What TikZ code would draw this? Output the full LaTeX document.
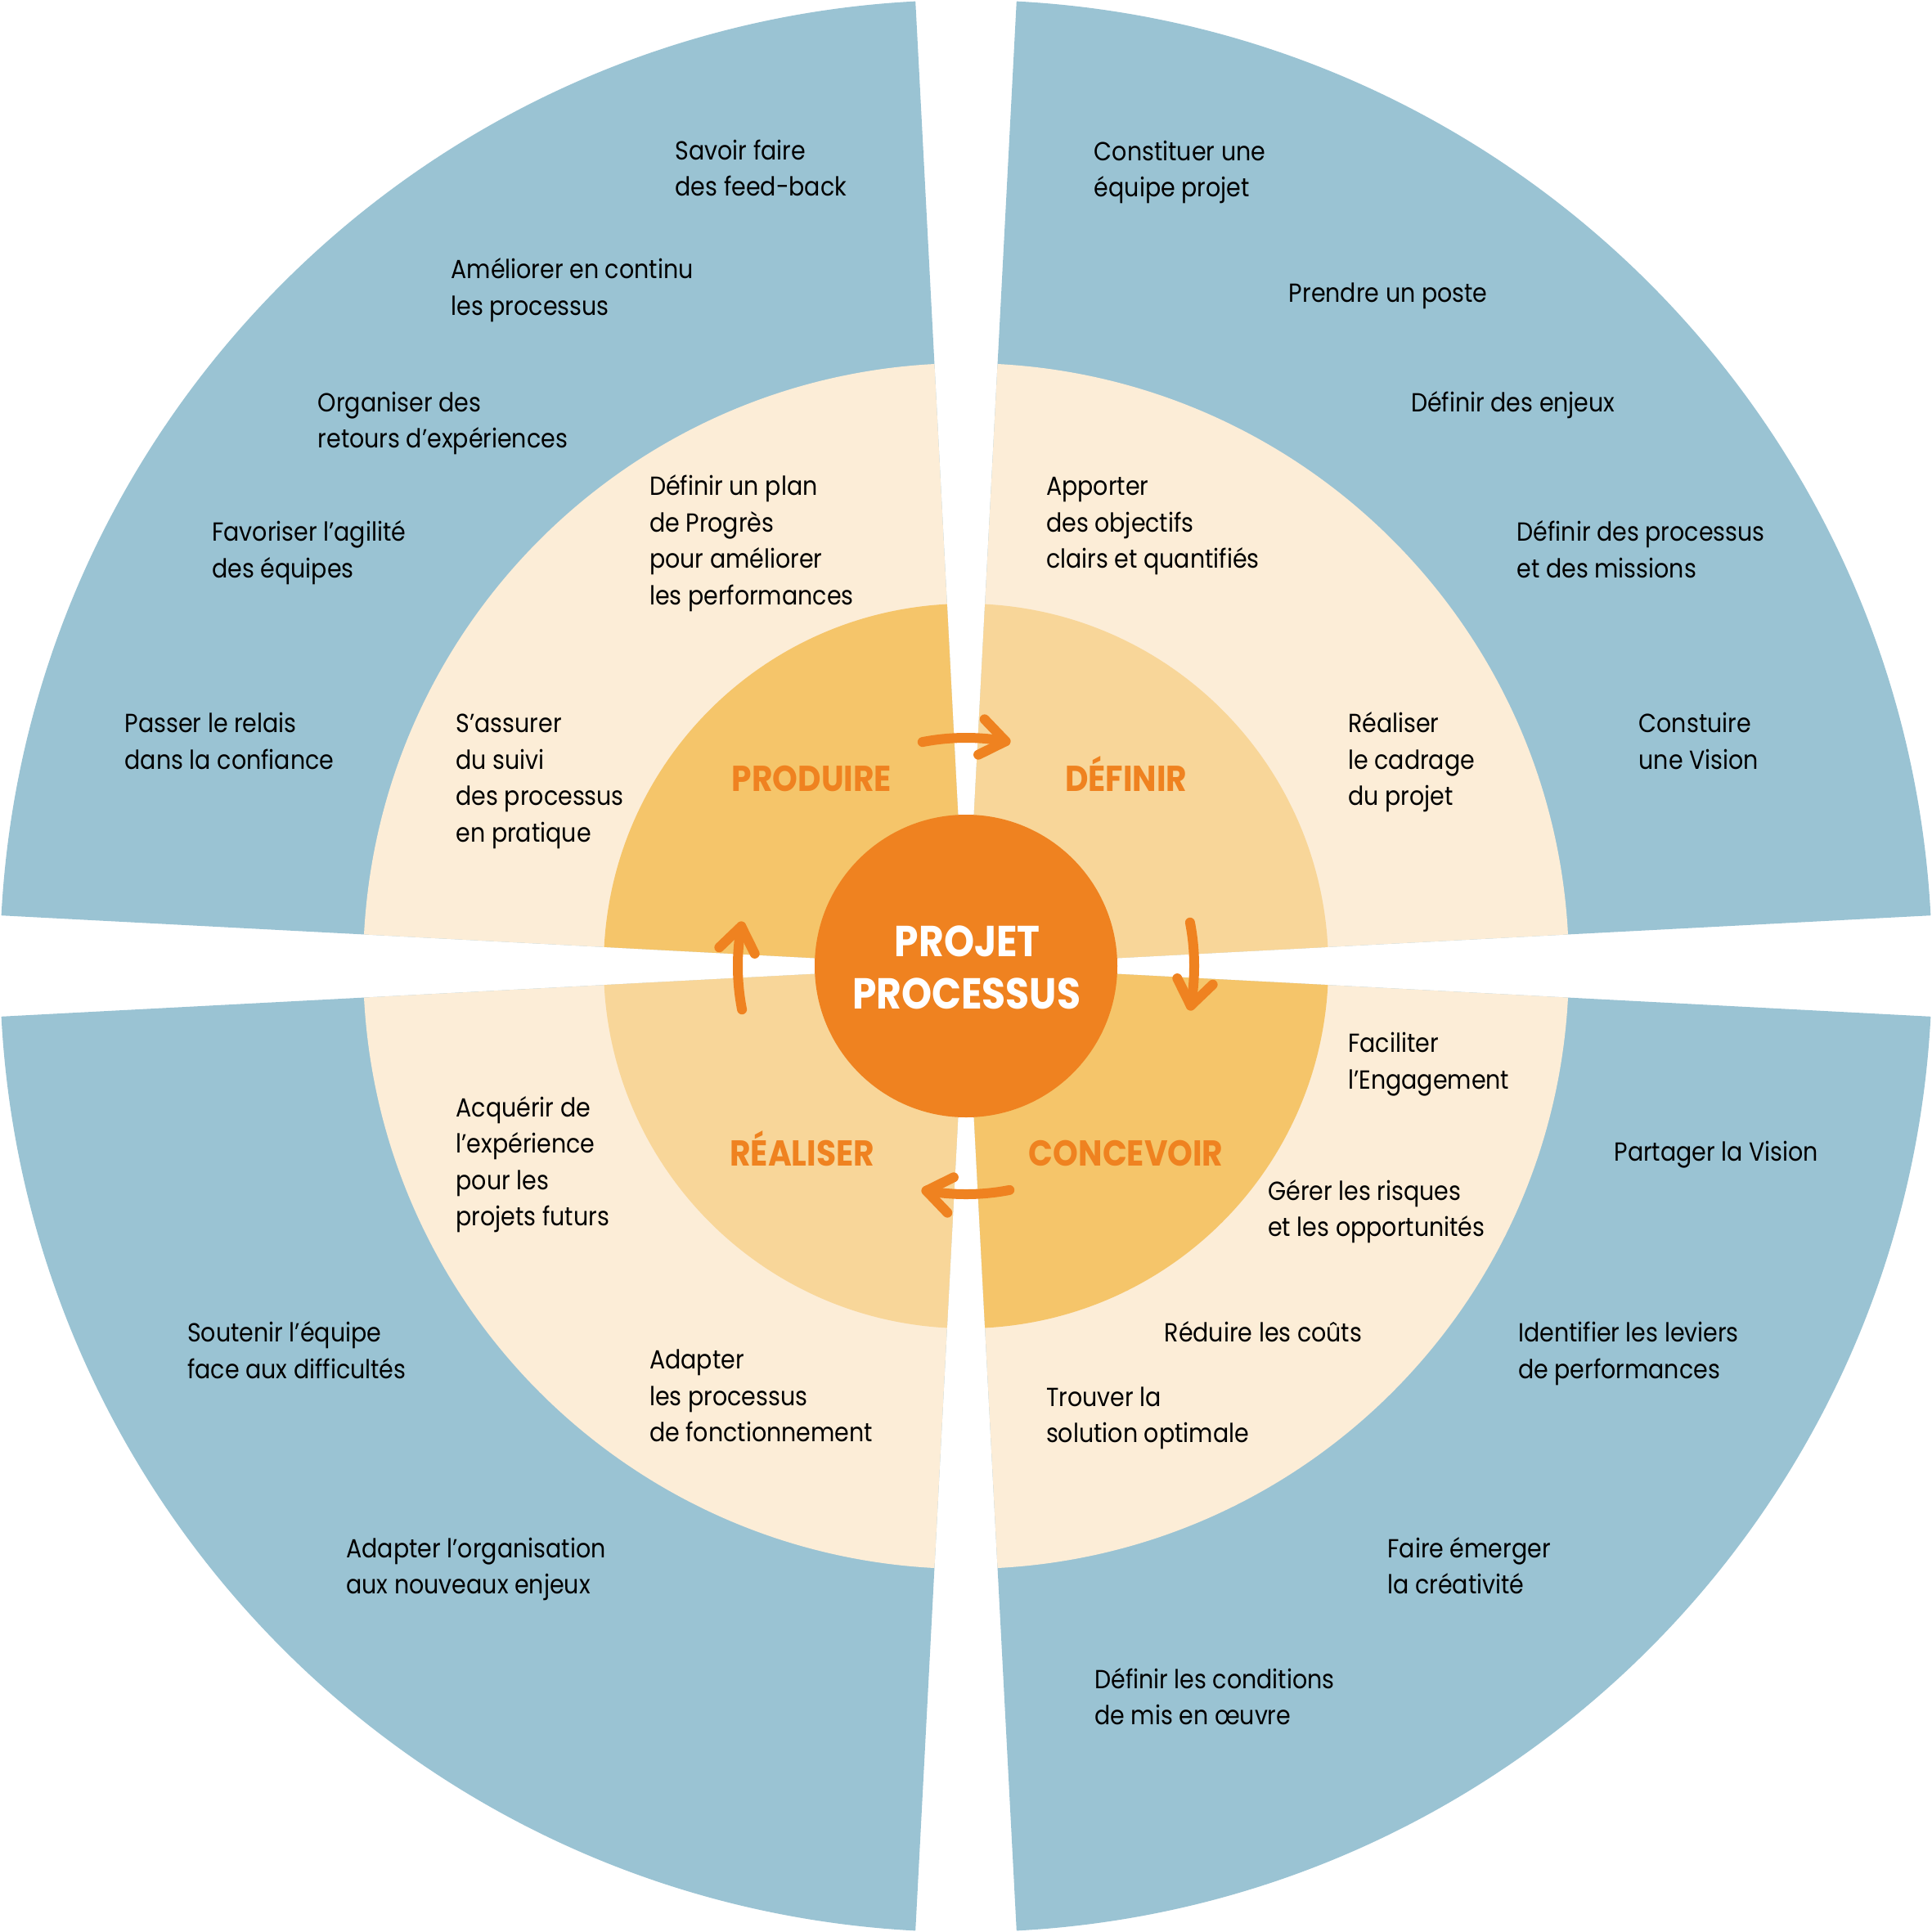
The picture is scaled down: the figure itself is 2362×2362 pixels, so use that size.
\documentclass[tikz,border=0pt]{standalone}
\usepackage{fontspec}
\setmainfont[FakeStretch=0.89]{Poppins}
\definecolor{blueout}{HTML}{9AC3D3}
\definecolor{cream}{HTML}{FCEDD7}
\definecolor{darky}{HTML}{F5C56A}
\definecolor{lighty}{HTML}{F8D699}
\definecolor{orng}{HTML}{EF8220}
\newcommand\TX[4]{\node[txt] (#1) at (#2,#3-40) {\rule{0pt}{40pt}#4};}
\begin{document}
\begin{tikzpicture}[x=1pt,y=-1pt,
  txt/.style={anchor=north west, inner sep=0pt, align=left, text=black,
    font=\fontsize{32}{44.5}\selectfont},
  lbl/.style={anchor=base, inner sep=0pt, text=orng, font=\fontsize{44}{50}\selectfont\bfseries},
  ctr/.style={anchor=base, inner sep=0pt, text=white, font=\fontsize{53}{60}\selectfont\bfseries},
  arrline/.style={draw=orng, line width=12pt, line cap=round, line join=round}]
\useasboundingbox (0,0) rectangle (2362,2362);
\fill[white] (0,0) rectangle (2362,2362);
\begin{scope}[shift={(1181,1181)}]
  \foreach \a in {-87,3,93,183} {
    \fill[blueout] (0,0) -- (\a:1181) arc[start angle=\a, end angle=\a+84, radius=1181] -- cycle;
    \fill[cream] (0,0) -- (\a:737) arc[start angle=\a, end angle=\a+84, radius=737] -- cycle;
  }
  \foreach \a/\c in {-177/darky,-87/lighty,3/darky,93/lighty} {
    \fill[\c] (0,0) -- (\a:443) arc[start angle=\a, end angle=\a+84, radius=443] -- cycle;
  }
  \node[circle, fill=orng, minimum size=370pt, inner sep=0pt] (centre) at (0,0) {};
  \foreach \b in {-90,0,90,180} {
    \draw[arrline] (\b-11:279) arc[start angle=\b-11, end angle=\b+10, radius=279];
    \draw[arrline, shift={(\b+10:279)}, rotate=-\b-100] (-30,22) -- (0,0) -- (-30,-22);
  }
\end{scope}
\node[ctr] (projet) at (1182.8,1169) {PROJET};
\node[ctr] (processus) at (1181.6,1233.6) {PROCESSUS};
\node[lbl] (produire) at (992.4,967.7) {PRODUIRE};
\node[lbl] (definir) at (1376.7,967.7) {DÉFINIR};
\node[lbl] (realiser) at (980.6,1425.5) {RÉALISER};
\node[lbl] (concevoir) at (1376.7,1425.5) {CONCEVOIR};
% top-left outer
\TX{t1}{825.5}{195}{Savoir faire\\des feed-back}
\TX{t2}{551.3}{340.4}{Améliorer en continu\\les processus}
\TX{t3}{388.6}{503.1}{Organiser des\\retours d’expériences}
\TX{t4}{259.1}{661.3}{Favoriser l’agilité\\des équipes}
\TX{t5}{152.5}{895.5}{Passer le relais\\dans la confiance}
% top-left middle
\TX{t6}{793.9}{605.6}{Définir un plan\\de Progrès\\pour améliorer\\les performances}
\TX{t7}{557.4}{895.5}{S’assurer\\du suivi\\des processus\\en pratique}
% top-right outer
\TX{t8}{1337.7}{195.8}{Constituer une\\équipe projet}
\TX{t9}{1575.7}{369.1}{Prendre un poste}
\TX{t10}{1724.8}{503.1}{Définir des enjeux}
\TX{t11}{1854.4}{661.3}{Définir des processus\\et des missions}
\TX{t12}{2003.5}{895.5}{Constuire\\une Vision}
% top-right middle
\TX{t13}{1278.9}{605.6}{Apporter\\des objectifs\\clairs et quantifiés}
\TX{t14}{1648}{895.5}{Réaliser\\le cadrage\\du projet}
% bottom-right middle
\TX{t15}{1648}{1286.5}{Faciliter\\l’Engagement}
\TX{t16}{1550.1}{1467.2}{Gérer les risques\\et les opportunités}
\TX{t17}{1423.5}{1640.5}{Réduire les coûts}
\TX{t18}{1278.9}{1718.8}{Trouver la\\solution optimale}
% bottom-right outer
\TX{t19}{1973.4}{1419}{Partager la Vision}
\TX{t20}{1855.9}{1640.5}{Identifier les leviers\\de performances}
\TX{t21}{1696.2}{1904.1}{Faire émerger\\la créativité}
\TX{t22}{1338}{2064}{Définir les conditions\\de mis en œuvre}
% bottom-left middle
\TX{t23}{557.4}{1364.8}{Acquérir de\\l’expérience\\pour les\\projets futurs}
\TX{t24}{793.9}{1673.6}{Adapter\\les processus\\de fonctionnement}
% bottom-left outer
\TX{t25}{229}{1640.5}{Soutenir l’équipe\\face aux difficultés}
\TX{t26}{423.3}{1904.1}{Adapter l’organisation\\aux nouveaux enjeux}
\end{tikzpicture}
\end{document}
